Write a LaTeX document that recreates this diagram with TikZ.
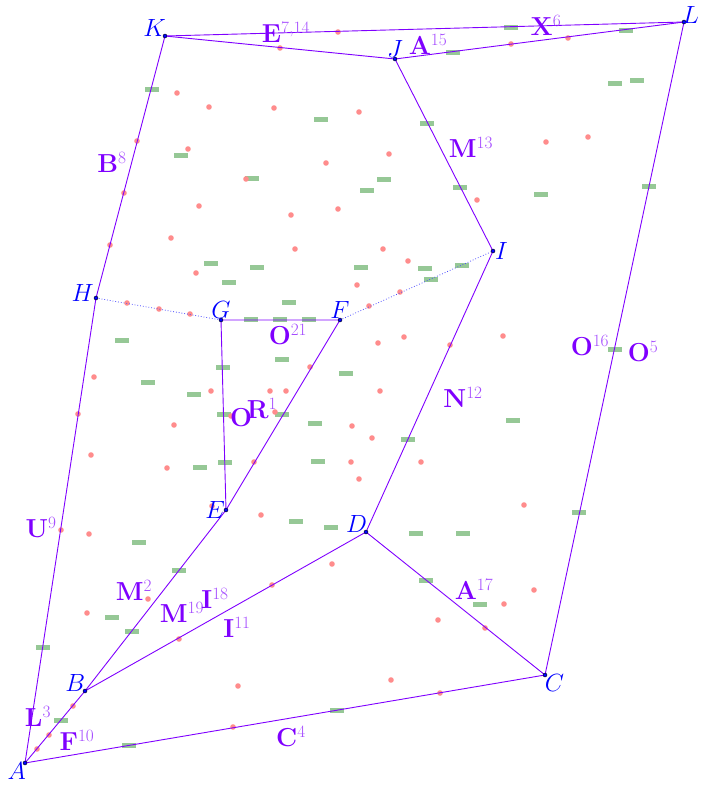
\documentclass[tikz,border=0pt]{standalone}
\usetikzlibrary{positioning}
\definecolor{edgecol}{RGB}{127,0,255}
\definecolor{ptcol}{RGB}{0,0,255}
\definecolor{dotcol}{RGB}{255,140,140}
\definecolor{dashcol}{RGB}{150,200,150}
\newcommand{\elab}[2]{#1$^{\textcolor{edgecol!70}{#2}}$}
\tikzset{
  edge/.style={edgecol, line width=0.9pt},
  guide/.style={ptcol!70, dotted, line width=0.8pt},
  vertex/.style={fill=ptcol},
  ptlabel/.style={ptcol, font=\fontsize{26}{28}\selectfont, inner sep=1pt},
  elabel/.style={edgecol, font=\fontsize{26}{28}\selectfont\bfseries, inner sep=0pt},
  reddot/.style={fill=dotcol},
  greendash/.style={fill=dashcol},
}
\begin{document}
\begin{tikzpicture}[x=1pt,y=-1pt]
\useasboundingbox (0,0) rectangle (708,787);
% vertices
\coordinate (A) at (25,763);
\coordinate (B) at (85,691);
\coordinate (C) at (545,675);
\coordinate (D) at (366,532);
\coordinate (E) at (226,510);
\coordinate (F) at (340,320);
\coordinate (G) at (221,320);
\coordinate (H) at (96,298);
\coordinate (I) at (493,251);
\coordinate (J) at (395,59);
\coordinate (K) at (165,36);
\coordinate (L) at (684,22);
% green dashes
\fill [greendash] (152,89) ++(-7,-2.5) rectangle ++(14,5);
\fill [greendash] (321,119) ++(-7,-2.5) rectangle ++(14,5);
\fill [greendash] (181,155) ++(-7,-2.5) rectangle ++(14,5);
\fill [greendash] (252,178) ++(-7,-2.5) rectangle ++(14,5);
\fill [greendash] (511,27) ++(-7,-2.5) rectangle ++(14,5);
\fill [greendash] (453,52) ++(-7,-2.5) rectangle ++(14,5);
\fill [greendash] (626,30) ++(-7,-2.5) rectangle ++(14,5);
\fill [greendash] (615,83) ++(-7,-2.5) rectangle ++(14,5);
\fill [greendash] (637,80) ++(-7,-2.5) rectangle ++(14,5);
\fill [greendash] (427,123) ++(-7,-2.5) rectangle ++(14,5);
\fill [greendash] (384,179) ++(-7,-2.5) rectangle ++(14,5);
\fill [greendash] (367,190) ++(-7,-2.5) rectangle ++(14,5);
\fill [greendash] (460,187) ++(-7,-2.5) rectangle ++(14,5);
\fill [greendash] (541,194) ++(-7,-2.5) rectangle ++(14,5);
\fill [greendash] (649,186) ++(-7,-2.5) rectangle ++(14,5);
\fill [greendash] (211,263) ++(-7,-2.5) rectangle ++(14,5);
\fill [greendash] (257,267) ++(-7,-2.5) rectangle ++(14,5);
\fill [greendash] (361,267) ++(-7,-2.5) rectangle ++(14,5);
\fill [greendash] (229,282) ++(-7,-2.5) rectangle ++(14,5);
\fill [greendash] (289,302) ++(-7,-2.5) rectangle ++(14,5);
\fill [greendash] (251,319) ++(-7,-2.5) rectangle ++(14,5);
\fill [greendash] (280,319) ++(-7,-2.5) rectangle ++(14,5);
\fill [greendash] (309,319) ++(-7,-2.5) rectangle ++(14,5);
\fill [greendash] (122,340) ++(-7,-2.5) rectangle ++(14,5);
\fill [greendash] (282,359) ++(-7,-2.5) rectangle ++(14,5);
\fill [greendash] (223,367) ++(-7,-2.5) rectangle ++(14,5);
\fill [greendash] (148,382) ++(-7,-2.5) rectangle ++(14,5);
\fill [greendash] (194,394) ++(-7,-2.5) rectangle ++(14,5);
\fill [greendash] (346,373) ++(-7,-2.5) rectangle ++(14,5);
\fill [greendash] (224,414) ++(-7,-2.5) rectangle ++(14,5);
\fill [greendash] (282,414) ++(-7,-2.5) rectangle ++(14,5);
\fill [greendash] (315,423) ++(-7,-2.5) rectangle ++(14,5);
\fill [greendash] (425,268) ++(-7,-2.5) rectangle ++(14,5);
\fill [greendash] (462,265) ++(-7,-2.5) rectangle ++(14,5);
\fill [greendash] (431,279) ++(-7,-2.5) rectangle ++(14,5);
\fill [greendash] (615,349) ++(-7,-2.5) rectangle ++(14,5);
\fill [greendash] (513,420) ++(-7,-2.5) rectangle ++(14,5);
\fill [greendash] (408,439) ++(-7,-2.5) rectangle ++(14,5);
\fill [greendash] (200,467) ++(-7,-2.5) rectangle ++(14,5);
\fill [greendash] (225,462) ++(-7,-2.5) rectangle ++(14,5);
\fill [greendash] (318,461) ++(-7,-2.5) rectangle ++(14,5);
\fill [greendash] (296,521) ++(-7,-2.5) rectangle ++(14,5);
\fill [greendash] (331,527) ++(-7,-2.5) rectangle ++(14,5);
\fill [greendash] (139,542) ++(-7,-2.5) rectangle ++(14,5);
\fill [greendash] (179,570) ++(-7,-2.5) rectangle ++(14,5);
\fill [greendash] (112,617) ++(-7,-2.5) rectangle ++(14,5);
\fill [greendash] (132,631) ++(-7,-2.5) rectangle ++(14,5);
\fill [greendash] (43,647) ++(-7,-2.5) rectangle ++(14,5);
\fill [greendash] (61,720) ++(-7,-2.5) rectangle ++(14,5);
\fill [greendash] (129,745) ++(-7,-2.5) rectangle ++(14,5);
\fill [greendash] (337,710) ++(-7,-2.5) rectangle ++(14,5);
\fill [greendash] (416,533) ++(-7,-2.5) rectangle ++(14,5);
\fill [greendash] (463,533) ++(-7,-2.5) rectangle ++(14,5);
\fill [greendash] (579,512) ++(-7,-2.5) rectangle ++(14,5);
\fill [greendash] (426,580) ++(-7,-2.5) rectangle ++(14,5);
\fill [greendash] (480,604) ++(-7,-2.5) rectangle ++(14,5);
% red dots
\fill [reddot] (338,32) circle (2.8);
\fill [reddot] (280,48) circle (2.8);
\fill [reddot] (177,93) circle (2.8);
\fill [reddot] (209,107) circle (2.8);
\fill [reddot] (274,108) circle (2.8);
\fill [reddot] (359,112) circle (2.8);
\fill [reddot] (137,141) circle (2.8);
\fill [reddot] (188,149) circle (2.8);
\fill [reddot] (326,163) circle (2.8);
\fill [reddot] (246,179) circle (2.8);
\fill [reddot] (124,193) circle (2.8);
\fill [reddot] (511,44) circle (2.8);
\fill [reddot] (568,38) circle (2.8);
\fill [reddot] (389,154) circle (2.8);
\fill [reddot] (546,142) circle (2.8);
\fill [reddot] (588,137) circle (2.8);
\fill [reddot] (477,200) circle (2.8);
\fill [reddot] (199,206) circle (2.8);
\fill [reddot] (291,215) circle (2.8);
\fill [reddot] (338,209) circle (2.8);
\fill [reddot] (171,238) circle (2.8);
\fill [reddot] (295,249) circle (2.8);
\fill [reddot] (196,273) circle (2.8);
\fill [reddot] (357,285) circle (2.8);
\fill [reddot] (110,245) circle (2.8);
\fill [reddot] (127,303) circle (2.8);
\fill [reddot] (159,309) circle (2.8);
\fill [reddot] (190,314) circle (2.8);
\fill [reddot] (94,377) circle (2.8);
\fill [reddot] (211,391) circle (2.8);
\fill [reddot] (270,391) circle (2.8);
\fill [reddot] (286,391) circle (2.8);
\fill [reddot] (275,412) circle (2.8);
\fill [reddot] (231,416) circle (2.8);
\fill [reddot] (78,414) circle (2.8);
\fill [reddot] (174,425) circle (2.8);
\fill [reddot] (352,426) circle (2.8);
\fill [reddot] (310,367) circle (2.8);
\fill [reddot] (383,249) circle (2.8);
\fill [reddot] (408,261) circle (2.8);
\fill [reddot] (400,292) circle (2.8);
\fill [reddot] (369,306) circle (2.8);
\fill [reddot] (503,336) circle (2.8);
\fill [reddot] (404,337) circle (2.8);
\fill [reddot] (378,343) circle (2.8);
\fill [reddot] (450,345) circle (2.8);
\fill [reddot] (380,391) circle (2.8);
\fill [reddot] (372,438) circle (2.8);
\fill [reddot] (91,455) circle (2.8);
\fill [reddot] (167,468) circle (2.8);
\fill [reddot] (254,462) circle (2.8);
\fill [reddot] (351,462) circle (2.8);
\fill [reddot] (359,479) circle (2.8);
\fill [reddot] (61,530) circle (2.8);
\fill [reddot] (89,534) circle (2.8);
\fill [reddot] (261,515) circle (2.8);
\fill [reddot] (212,506) circle (2.8);
\fill [reddot] (332,564) circle (2.8);
\fill [reddot] (272,585) circle (2.8);
\fill [reddot] (148,599) circle (2.8);
\fill [reddot] (87,613) circle (2.8);
\fill [reddot] (179,639) circle (2.8);
\fill [reddot] (238,686) circle (2.8);
\fill [reddot] (73,706) circle (2.8);
\fill [reddot] (49,735) circle (2.8);
\fill [reddot] (37,749) circle (2.8);
\fill [reddot] (233,727) circle (2.8);
\fill [reddot] (421,462) circle (2.8);
\fill [reddot] (524,505) circle (2.8);
\fill [reddot] (534,590) circle (2.8);
\fill [reddot] (504,604) circle (2.8);
\fill [reddot] (438,620) circle (2.8);
\fill [reddot] (485,628) circle (2.8);
\fill [reddot] (391,680) circle (2.8);
\fill [reddot] (440,693) circle (2.8);
% guide lines
\draw [guide] (H) -- (G);
\draw [guide] (F) -- (I);
% edges
\draw [edge] (A) -- (B) -- (E) -- (F);
\draw [edge] (E) -- (G) -- (F);
\draw [edge] (B) -- (D) -- (C) -- (A);
\draw [edge] (C) -- (L) -- (K) -- (H) -- (A);
\draw [edge] (D) -- (I) -- (J) -- (K);
\draw [edge] (J) -- (L);
% vertex dots
\filldraw [vertex] (A) circle (2);
\filldraw [vertex] (B) circle (2);
\filldraw [vertex] (C) circle (2);
\filldraw [vertex] (D) circle (2);
\filldraw [vertex] (E) circle (2);
\filldraw [vertex] (F) circle (2);
\filldraw [vertex] (G) circle (2);
\filldraw [vertex] (H) circle (2);
\filldraw [vertex] (I) circle (2);
\filldraw [vertex] (J) circle (2);
\filldraw [vertex] (K) circle (2);
\filldraw [vertex] (L) circle (2);
% vertex labels
\node [ptlabel, below left=-3pt of A] (lA) {$A$};
\node [ptlabel, above left=-2pt of B] (lB) {$B$};
\node [ptlabel, below right=-2pt of C] (lC) {$C$};
\node [ptlabel, above left=-3pt of D] (lD) {$D$};
\node [ptlabel, left=0pt of E] (lE) {$E$};
\node [ptlabel, above=0pt of F] (lF) {$F$};
\node [ptlabel, above=0pt of G] (lG) {$G$};
\node [ptlabel, above left=-5pt and 1pt of H] (lH) {$H$};
\node [ptlabel, right=1pt of I] (lI) {$I$};
\node [ptlabel, above=0pt of J] (lJ) {$J$};
\node [ptlabel, above left=-3pt of K] (lK) {$K$};
\node [ptlabel, above right=-4pt of L] (lL) {$L$};
% edge labels
\node [elabel] (eKL) at (286,32) {\elab{E}{7,14}};
\node [elabel] (eJL1) at (546,25) {\elab{X}{6}};
\node [elabel] (eJL2) at (428,44) {\elab{A}{15}};
\node [elabel] (eIJ) at (471,147) {\elab{M}{13}};
\node [elabel] (eKH) at (112,162) {\elab{B}{8}};
\node [elabel] (eGF) at (288,335) {\elab{O}{21}};
\node [elabel] (eDI) at (463,397) {\elab{N}{12}};
\node [elabel] (eCL1) at (590,346) {\elab{O}{16}};
\node [elabel] (eCL2) at (643,352) {\elab{O}{5}};
\node [elabel] (eEG) at (241,418) {O};
\node [elabel] (eEF) at (262,409) {\elab{R}{1}};
\node [elabel] (eHA) at (41,528) {\elab{U}{9}};
\node [elabel] (eBE1) at (134,590) {\elab{M}{2}};
\node [elabel] (eBE2) at (182,612) {\elab{M}{19}};
\node [elabel] (eBD1) at (215,598) {\elab{I}{18}};
\node [elabel] (eBD2) at (237,627) {\elab{I}{11}};
\node [elabel] (eDC) at (474,589) {\elab{A}{17}};
\node [elabel] (eAB1) at (38,716) {\elab{L}{3}};
\node [elabel] (eAB2) at (77,740) {\elab{F}{10}};
\node [elabel] (eAC) at (291,737) {\elab{C}{4}};
\end{tikzpicture}
\end{document}
